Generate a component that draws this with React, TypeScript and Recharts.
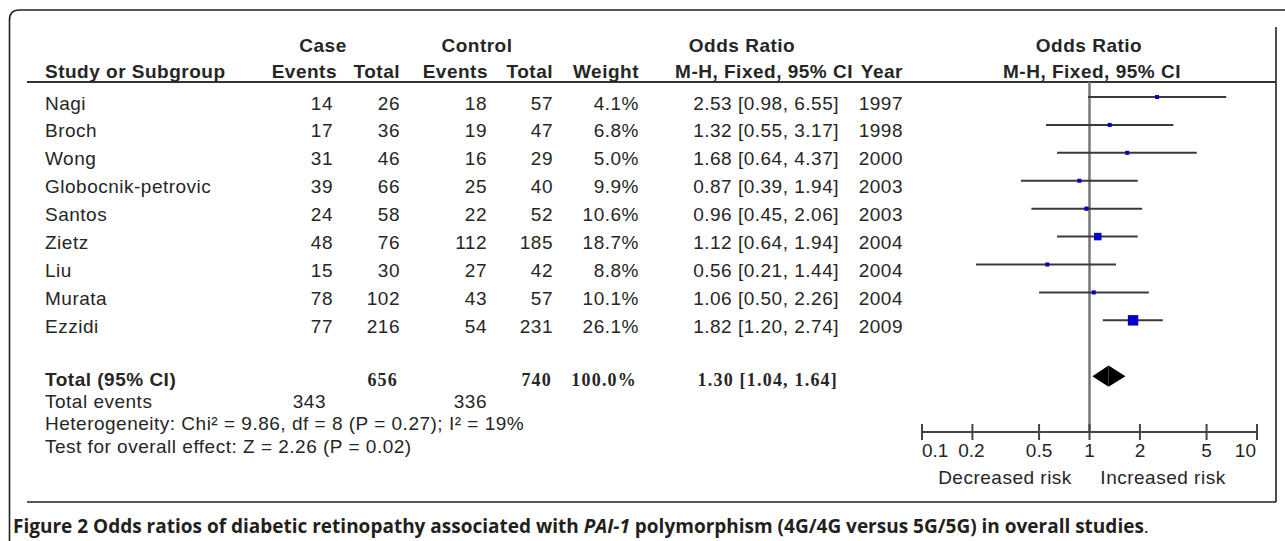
import React from 'react';
import { ComposedChart, XAxis, YAxis, Scatter, ReferenceLine, ReferenceArea } from 'recharts';

// ---------- data ----------
const studies = ['Nagi', 'Broch', 'Wong', 'Globocnik-petrovic', 'Santos', 'Zietz', 'Liu', 'Murata', 'Ezzidi'];
const caseEvents = [14, 17, 31, 39, 24, 48, 15, 78, 77];
const caseTotal = [26, 36, 46, 66, 58, 76, 30, 102, 216];
const controlEvents = [18, 19, 16, 25, 22, 112, 27, 43, 54];
const controlTotal = [57, 47, 29, 40, 52, 185, 42, 57, 231];
const weights = [4.1, 6.8, 5.0, 9.9, 10.6, 18.7, 8.8, 10.1, 26.1];
const oddsRatios = [2.53, 1.32, 1.68, 0.87, 0.96, 1.12, 0.56, 1.06, 1.82];
const ciLower = [0.98, 0.55, 0.64, 0.39, 0.45, 0.64, 0.21, 0.5, 1.2];
const ciUpper = [6.55, 3.17, 4.37, 1.94, 2.06, 1.94, 1.44, 2.26, 2.74];
const years = [1997, 1998, 2000, 2003, 2003, 2004, 2004, 2004, 2009];

const totalCase = 656;
const totalControl = 740;
const totalWeight = 100.0;
const totalOR = 1.3;
const totalLower = 1.04;
const totalUpper = 1.64;
const totalCaseEvents = 343;
const totalControlEvents = 336;
const heterogeneityText = 'Heterogeneity: Chi\u00B2 = 9.86, df = 8 (P = 0.27); I\u00B2 = 19%';
const overallEffectText = 'Test for overall effect: Z = 2.26 (P = 0.02)';

const axisTicks = [0.1, 0.2, 0.5, 1, 2, 5, 10];
const axisTickLabels = ['0.1', '0.2', '0.5', '1', '2', '5', '10'];

const TOTAL_ROW = 10;

const pointData = studies.map((s, i) => ({ name: s, x: oddsRatios[i], y: i, w: weights[i] }));

// ---------- styles ----------
const W = 1285;
const H = 541;
const SANS = "'Liberation Sans', Arial, Helvetica, sans-serif";
const SERIF = "'Liberation Serif', 'Times New Roman', serif";
const TXT = '#262626';
const rowBase = (i: number) => 109.5 + 27.92 * i;

const fmt2 = (v: number) => v.toFixed(2);

const SquareShape = (p: any) => {
  const s = Math.max(4, p.payload.w * 0.4);
  return <rect x={p.cx - s / 2} y={p.cy - s / 2} width={s} height={s} fill="#0000cc" />;
};

const norm = (p: any) => {
  const x = Math.min(p.x, p.x + p.width);
  const y = Math.min(p.y, p.y + p.height);
  return { x, y, w: Math.abs(p.width), h: Math.abs(p.height) };
};
const LeftTri = (p: any) => {
  const { x, y, w, h } = norm(p);
  return <polygon points={`${x},${y + h / 2} ${x + w},${y} ${x + w},${y + h}`} fill="#000" />;
};
const RightTri = (p: any) => {
  const { x, y, w, h } = norm(p);
  return <polygon points={`${x},${y} ${x + w},${y + h / 2} ${x},${y + h}`} fill="#000" />;
};

const AxisTick = (p: any) => {
  const { x, y, index } = p;
  let anchor: 'start' | 'middle' | 'end' = 'middle';
  let dx = 0;
  if (index === 0) { anchor = 'start'; dx = 0; }
  else if (index === 1) { dx = -1; }
  else if (index === axisTicks.length - 1) { anchor = 'end'; dx = -1; }
  return (
    <g>
      <line x1={x} x2={x} y1={y - 8} y2={y + 8} stroke="#444" strokeWidth={2} />
      <text x={x + dx} y={y + 25} textAnchor={anchor} fontFamily={SANS} fontSize={19}
        fill={TXT}>
        {axisTickLabels[index]}
      </text>
    </g>
  );
};

const Frame = () => (
  <g fill="none" stroke="#222" strokeWidth={1.6}>
    <path d="M 9.5 541 L 9.5 20 Q 9.5 10 19.5 10 L 1285 10" />
    <line x1={1276} x2={1276} y1={27} y2={502} />
    <line x1={27} x2={1276} y1={502} y2={502} />
    <line x1={27} x2={1276} y1={82} y2={82} stroke="#333" strokeWidth={2} />
  </g>
);

const Headers = () => (
  <g fontFamily={SANS} fontSize={19} fontWeight={700} fill={TXT} style={{ letterSpacing: '0.5px' }}>
    <text x={323} y={52} textAnchor="middle">Case</text>
    <text x={477} y={52} textAnchor="middle">Control</text>
    <text x={742} y={52} textAnchor="middle">Odds Ratio</text>
    <text x={1089} y={52} textAnchor="middle">Odds Ratio</text>
    <text x={45} y={78}>Study or Subgroup</text>
    <text x={337} y={78} textAnchor="end">Events</text>
    <text x={400} y={78} textAnchor="end">Total</text>
    <text x={488} y={78} textAnchor="end">Events</text>
    <text x={553} y={78} textAnchor="end">Total</text>
    <text x={639} y={78} textAnchor="end">Weight</text>
    <text x={853} y={78} textAnchor="end">M-H, Fixed, 95% CI</text>
    <text x={903} y={78} textAnchor="end">Year</text>
    <text x={1092} y={78} textAnchor="middle">M-H, Fixed, 95% CI</text>
  </g>
);

const Rows = () => (
  <g fontFamily={SANS} fontSize={19} fill={TXT} style={{ letterSpacing: '0.5px' }}>
    {studies.map((s, i) => {
      const y = rowBase(i);
      return (
        <g key={s}>
          <text x={45} y={y}>{s}</text>
          <text x={333} y={y} textAnchor="end">{caseEvents[i]}</text>
          <text x={400} y={y} textAnchor="end">{caseTotal[i]}</text>
          <text x={487} y={y} textAnchor="end">{controlEvents[i]}</text>
          <text x={553} y={y} textAnchor="end">{controlTotal[i]}</text>
          <text x={639} y={y} textAnchor="end">{weights[i].toFixed(1)}%</text>
          <text x={839} y={y} textAnchor="end">
            {`${fmt2(oddsRatios[i])} [${fmt2(ciLower[i])}, ${fmt2(ciUpper[i])}]`}
          </text>
          <text x={903} y={y} textAnchor="end">{years[i]}</text>
        </g>
      );
    })}
    <text x={45} y={386} fontWeight={700}>Total (95% CI)</text>
    <g fontFamily={SERIF} fontSize={18} fontWeight={700} style={{ letterSpacing: '1.2px' }}>
      <text x={398} y={386} textAnchor="end">{totalCase}</text>
      <text x={552} y={386} textAnchor="end">{totalControl}</text>
      <text x={637} y={386} textAnchor="end">{totalWeight.toFixed(1)}%</text>
      <text x={838} y={386} textAnchor="end">
        {`${fmt2(totalOR)} [${fmt2(totalLower)}, ${fmt2(totalUpper)}]`}
      </text>
    </g>
    <text x={45} y={408}>Total events</text>
    <text x={326} y={408} textAnchor="end">{totalCaseEvents}</text>
    <text x={487} y={408} textAnchor="end">{totalControlEvents}</text>
    <text x={45} y={430}>{heterogeneityText}</text>
    <text x={45} y={453}>{overallEffectText}</text>
    <text x={1005} y={484} textAnchor="middle">Decreased risk</text>
    <text x={1163} y={484} textAnchor="middle">Increased risk</text>
  </g>
);

const Caption = () => (
  <text x={13} y={533} fontFamily="'Open Sans', sans-serif" fontSize={19} fontWeight={700} fill="#231f20">
    <tspan>{'Figure 2 Odds ratios of diabetic retinopathy associated with '}</tspan>
    <tspan fontStyle="italic">PAI-1</tspan>
    <tspan>{' polymorphism (4G/4G versus 5G/5G) in overall studies'}</tspan>
    <tspan fontWeight={400}>.</tspan>
  </text>
);

export default function App() {
  return (
    <div style={{ position: 'absolute', left: 0, top: 0, width: W, height: H, background: '#fff' }}>
      <ComposedChart width={W} height={H} data={pointData}
        margin={{ top: 82, right: 28, bottom: 79, left: 922 }}>
        <XAxis dataKey="x" type="number" scale="log" domain={[0.1, 10]} allowDataOverflow
          ticks={axisTicks} interval={0} height={30} tickSize={0} tickMargin={0} tickLine={false}
          axisLine={{ stroke: '#444', strokeWidth: 2 }} tick={<AxisTick />} />
        <YAxis dataKey="y" type="number" domain={[-0.537, 12]} allowDataOverflow reversed hide />
        <ReferenceLine x={1} stroke="#777" strokeWidth={2.5} />
        {studies.map((s, i) => (
          <ReferenceLine key={s} segment={[{ x: ciLower[i], y: i }, { x: ciUpper[i], y: i }]}
            stroke="#3a3a3a" strokeWidth={2} />
        ))}
        <ReferenceArea x1={totalLower} x2={totalOR} y1={TOTAL_ROW - 0.38} y2={TOTAL_ROW + 0.38}
          shape={<LeftTri />} />
        <ReferenceArea x1={totalOR} x2={totalUpper} y1={TOTAL_ROW - 0.38} y2={TOTAL_ROW + 0.38}
          shape={<RightTri />} />
        <Scatter data={pointData} dataKey="y" isAnimationActive={false} shape={<SquareShape />} />
        <Frame />
        <Headers />
        <Rows />
        <Caption />
      </ComposedChart>
    </div>
  );
}
